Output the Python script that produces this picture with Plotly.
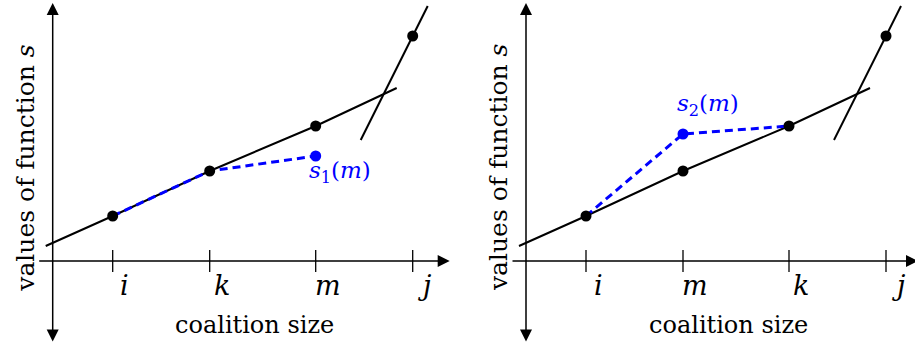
import plotly.graph_objects as go
from plotly.subplots import make_subplots

# positions on the coalition size axis (same for both panels)
tick_pos = [60, 157, 263, 360]
left_labels = ["i", "k", "m", "j"]
right_labels = ["i", "m", "k", "j"]

# the slow-growing line and its points
line_x = [-7, 60, 157, 263, 344]
line_y = [15, 45, 90, 135, 173]
dots_x = [60, 157, 263, 360]
dots_y = [45, 90, 135, 225]

# the steep line
steep_x = [308, 360, 375]
steep_y = [121, 225, 255]

# s_1(m) and s_2(m)
blue_left_x = [60, 157, 263]
blue_left_y = [45, 90, 105]
blue_right_x = [60, 157, 263]
blue_right_y = [45, 127, 135]

BLUE = "#0000ff"
FONT = "DejaVu Serif"

fig = make_subplots(rows=1, cols=2, horizontal_spacing=0)


def panel(col, labels, bx, by, blabel, lab_xy):
    xr = "x" if col == 1 else "x2"
    yr = "y" if col == 1 else "y2"
    # ticks
    tx, ty = [], []
    for t in tick_pos:
        tx += [t, t, None]
        ty += [11, -11, None]
    fig.add_trace(go.Scatter(x=tx, y=ty, mode="lines",
                             line=dict(color="black", width=1.3),
                             showlegend=False, hoverinfo="skip"), row=1, col=col)
    fig.add_trace(go.Scatter(x=line_x, y=line_y, mode="lines",
                             line=dict(color="black", width=2),
                             showlegend=False), row=1, col=col)
    fig.add_trace(go.Scatter(x=steep_x, y=steep_y, mode="lines",
                             line=dict(color="black", width=2),
                             showlegend=False), row=1, col=col)
    fig.add_trace(go.Scatter(x=bx, y=by, mode="lines",
                             line=dict(color=BLUE, width=3, dash="8px,5px"),
                             showlegend=False), row=1, col=col)
    fig.add_trace(go.Scatter(x=dots_x, y=dots_y, mode="markers",
                             marker=dict(color="black", size=11),
                             showlegend=False), row=1, col=col)
    bi = 2 if col == 1 else 1
    fig.add_trace(go.Scatter(x=[bx[bi]], y=[by[bi]], mode="markers",
                             marker=dict(color=BLUE, size=11),
                             showlegend=False), row=1, col=col)

    # axes with arrows
    fig.add_annotation(x=397 if col == 1 else 392, y=0, ax=-15, ay=0,
                       xref=xr, yref=yr, axref=xr, ayref=yr, text="",
                       showarrow=True, arrowhead=2, arrowsize=1.6,
                       arrowwidth=1.5, standoff=0, arrowcolor="black")
    fig.add_annotation(x=0, y=258, ax=0, ay=-82,
                       xref=xr, yref=yr, axref=xr, ayref=yr, text="",
                       showarrow=True, arrowhead=2, arrowsize=1.6,
                       arrowwidth=1.5, standoff=0, startstandoff=0,
                       arrowside="end+start", startarrowhead=2,
                       startarrowsize=1.6, arrowcolor="black")

    for t, lab in zip(tick_pos, labels):
        fig.add_annotation(x=t + 12, y=-24, xref=xr, yref=yr, text="<i>" + lab + "</i>",
                           showarrow=False, font=dict(family=FONT, size=27, color="black"))
    fig.add_annotation(x=202, y=-64, xref=xr, yref=yr, text="coalition size",
                       showarrow=False, font=dict(family=FONT, size=24, color="black"))
    fig.add_annotation(x=-28, y=93, xref=xr, yref=yr,
                       text="values of function <i>s</i>", textangle=-90,
                       showarrow=False, font=dict(family=FONT, size=25, color="black"))
    fig.add_annotation(x=lab_xy[0], y=lab_xy[1], xref=xr, yref=yr, text=blabel,
                       showarrow=False, font=dict(family=FONT, size=23, color=BLUE))


panel(1, left_labels, blue_left_x, blue_left_y,
      "<i>s</i><sub>1</sub>(<i>m</i>)", (287, 89))
panel(2, right_labels, blue_right_x, blue_right_y,
      "<i>s</i><sub>2</sub>(<i>m</i>)", (182, 156))

fig.update_xaxes(visible=False, fixedrange=True)
fig.update_yaxes(visible=False, fixedrange=True, range=[-85, 261])
fig.update_xaxes(range=[-52.7, 404.8], domain=[0, 0.5], row=1, col=1)
fig.update_xaxes(range=[-68.5, 389], domain=[0.5, 1], row=1, col=2)

fig.update_layout(width=915, height=346, margin=dict(l=0, r=0, t=0, b=0),
                  plot_bgcolor="white", paper_bgcolor="white")

# the page has a default 8px body margin; drop it so the figure fills the window
fig.write_html("out.html", config={"displayModeBar": False},
               post_script="document.body.style.margin='0';")
